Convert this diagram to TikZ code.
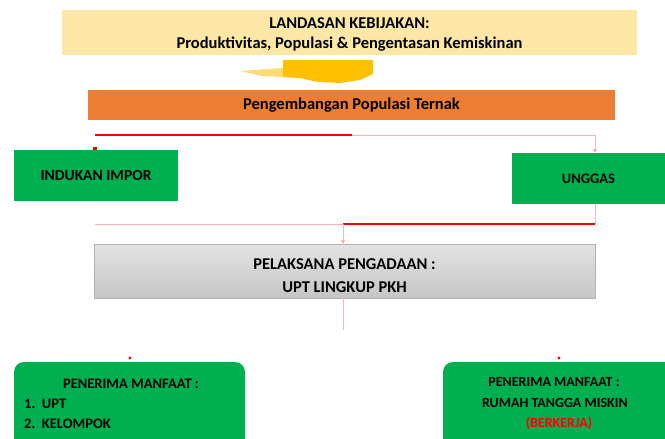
\documentclass[tikz,border=0pt]{standalone}
\usepackage{fontspec}
\setmainfont{Carlito}
\usetikzlibrary{arrows.meta}
\definecolor{ylw}{HTML}{FCE7A6}
\definecolor{org}{HTML}{ED7D31}
\definecolor{grn}{HTML}{00B050}
\definecolor{gold}{HTML}{FFC000}
\definecolor{pinkl}{HTML}{FFB3B3}
\newcommand{\fs}[1]{\fontsize{#1}{#1}\selectfont\bfseries}
\begin{document}
\begin{tikzpicture}[x=1pt,y=-1pt,
  box/.style={inner sep=0pt, outer sep=0pt, align=center},
  thick red/.style={draw=red, line width=1.6pt},
  thin red/.style={draw=pinkl, line width=0.9pt},
  tip/.style={-{Triangle[length=4pt,width=4pt,fill=red]}, draw=pinkl, line width=0.9pt},
  lbl/.style={inner sep=0pt},
]
\useasboundingbox (0,0) rectangle (665,439);
% top box
\fill[ylw] (62,10) rectangle (637,55);
\node[lbl, font=\fs{16.5}] (top1) at (349.5,23) {LANDASAN KEBIJAKAN:};
\node[lbl, font=\fs{16.5}] (top2) at (349.5,44) {Produktivitas, Populasi \& Pengentasan Kemiskinan};
% gold arrow shape
\fill[gold!55] (240,71) -- (283,68) -- (283,77) -- (262,76) -- cycle;
\fill[gold] (283,60) -- (373,60) -- (373,74) -- (360,80) -- (340,83) -- (318,82) -- (300,78) -- (283,77) -- cycle;
% orange box
\node[box, fill=org, minimum width=527pt, minimum height=30pt, font=\fs{16.5}] (dev) at (351.5,105)
  {Pengembangan Populasi Ternak};
% green boxes
\node[box, fill=grn, minimum width=164pt, minimum height=51pt, font=\fs{15.5}] (ind) at (96,175.5) {INDUKAN IMPOR};
\node[box, fill=grn, minimum width=153pt, minimum height=51pt, font=\fs{14.5}] (ung) at (588.5,178.5) {UNGGAS};
% gray box
\node[box, top color=gray!22, bottom color=gray!45, draw=gray!60, line width=0.6pt,
  minimum width=501pt, minimum height=54pt] (pel) at (344.5,271) {};
\node[lbl, font=\fs{16.5}] (pel1) at (344.5,264) {PELAKSANA PENGADAAN :};
\node[lbl, font=\fs{16.5}] (pel2) at (344.5,287) {UPT LINGKUP PKH};
% bottom boxes
\fill[grn, rounded corners=10pt] (14,362) rectangle (245,450);
\node[lbl, font=\fs{14.5}] (pm1) at (131,384) {PENERIMA MANFAAT :};
\node[lbl, anchor=west, font=\fs{14.5}] (u1) at (24,404) {1.\ \ UPT};
\node[lbl, anchor=west, font=\fs{14.5}] (u2) at (24,424) {2.\ \ KELOMPOK};
\fill[grn, rounded corners=10pt] (443,362) rectangle (680,450);
\node[lbl, font=\fs{14}] (pm2) at (554,382) {PENERIMA MANFAAT :};
\node[lbl, font=\fs{14}] (rtm) at (555,403) {RUMAH TANGGA MISKIN};
\node[lbl, text=red, font=\fs{14}] (ab) at (559,423) {(BERKERJA)};
% connector coordinates
\coordinate (l1) at (95,135);
\coordinate (m1) at (352,135);
\coordinate (r1) at (595,135);
\coordinate (l2) at (95,224);
\coordinate (m2) at (343,224);
\coordinate (r2) at (595,224);
\coordinate (e1) at (343,330);
\coordinate (d1) at (130,358);
\coordinate (d2) at (559,358);
% lines
\draw[thick red] (l1) -- (m1);
\draw[thin red] (m1) -- (r1);
\draw[tip] (r1) -- (ung.north -| r1);
\fill[red] (93,147) rectangle (97,150);
\draw[thin red] (ung.south -| r2) -- (r2);
\draw[thick red] (m2) -- (r2);
\draw[thin red] (l2) -- (m2);
\draw[tip] (m2) -- (pel.north -| m2);
\draw[thin red] (pel.south -| e1) -- (e1);
\fill[red] (d1) circle (1.6pt);
\fill[red] (d2) circle (1.6pt);
\end{tikzpicture}
\end{document}
